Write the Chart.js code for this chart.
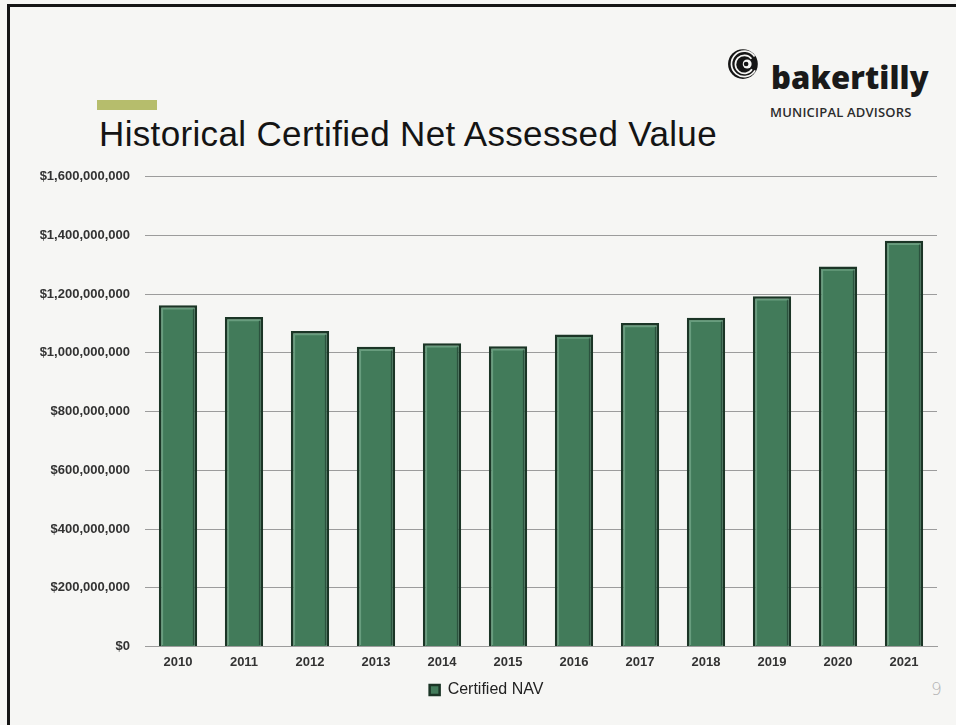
<!DOCTYPE html>
<html>
<head>
<meta charset="utf-8">
<script src="https://cdn.jsdelivr.net/npm/chart.js@4.4.1/dist/chart.umd.min.js"></script>
<style>
  html, body { margin: 0; padding: 0; }
  body { width: 956px; height: 725px; overflow: hidden; position: relative; background: #f6f6f4; font-family: "Liberation Sans", Arial, sans-serif; }
  .frame { position: absolute; left: 7px; top: 4px; width: 970px; height: 740px; border-top: 3px solid #151515; border-left: 3px solid #151515; }
  .accent { position: absolute; left: 97px; top: 100px; width: 60px; height: 10px; background: #b6bd6c; }
  .titulo { position: absolute; left: 99px; top: 114px; font-size: 35px; color: #141414; white-space: nowrap; letter-spacing: 0.35px; }
  .logo-icon { position: absolute; left: 727px; top: 48px; }
  .logo-name { position: absolute; left: 771px; top: 56px; font-family: "Open Sans", sans-serif; font-weight: 800; font-size: 31px; letter-spacing: 0.1px; color: #1a1a1a; }
  .logo-sub { position: absolute; left: 770px; top: 103px; font-family: "Open Sans", sans-serif; font-weight: 600; font-size: 13px; color: #2c2c2c; letter-spacing: 0.2px; }
  .pagina { position: absolute; left: 931px; top: 679px; font-size: 17px; color: #b4b4b4; font-family: "DejaVu Sans", sans-serif; font-weight: 200; }
  #graficoNav { position: absolute; left: 0; top: 154px; }
</style>
</head>
<body>
<div class="frame"></div>
<div class="accent"></div>
<div class="titulo">Historical Certified Net Assessed Value</div>

<svg class="logo-icon" width="34" height="32" viewBox="0 0 32 30">
  <circle cx="15" cy="15" r="14" fill="#151515"/>
  <path d="M26 8 A12 12 0 1 0 26.5 21" fill="none" stroke="#f6f6f4" stroke-width="1.6"/>
  <path d="M23 10 A8.5 8.5 0 1 0 23.5 20" fill="none" stroke="#f6f6f4" stroke-width="1.6"/>
  <circle cx="19" cy="15" r="4.2" fill="#f6f6f4"/>
  <circle cx="18" cy="15" r="2.2" fill="#151515"/>
</svg>
<div class="logo-name">bakertilly</div>
<div class="logo-sub">MUNICIPAL ADVISORS</div>
<div class="pagina">9</div>

<canvas id="graficoNav" width="956" height="557"></canvas>

<script>
// ── DATOS ─────────────────────────────────────────────
const anios = ['2010', '2011', '2012', '2013', '2014', '2015', '2016', '2017', '2018', '2019', '2020', '2021'];
const navCertificado = [1162000000, 1122000000, 1075000000, 1021000000, 1033000000, 1023000000,
                        1063000000, 1102000000, 1120000000, 1193000000, 1294000000, 1382000000];
const serieNombre = 'Certified NAV';
const ejeMax = 1600000000;
const ejePaso = 200000000;

const VERDE = '#427b5a';
const VERDE_BORDE = '#1b3526';
const FUENTE = '"Liberation Sans", Arial, sans-serif';

function fmtDolar(v) { return '$' + Number(v).toLocaleString('en-US'); }

// relieve de las barras: luz arriba/izquierda, sombra a la derecha
const bisel = {
    id: 'bisel',
    afterDatasetsDraw(chart) {
        const ctx = chart.ctx;
        chart.getDatasetMeta(0).data.forEach(bar => {
            const izq = bar.x - bar.width / 2, der = bar.x + bar.width / 2;
            const top = bar.y, base = bar.base;
            ctx.save();
            ctx.lineWidth = 1.5;
            ctx.strokeStyle = '#689d7e';
            ctx.beginPath();
            ctx.moveTo(izq + 3.5, base - 1);
            ctx.lineTo(izq + 3.5, top + 3.5);
            ctx.lineTo(der - 3.5, top + 3.5);
            ctx.stroke();
            ctx.strokeStyle = '#2b523e';
            ctx.beginPath();
            ctx.moveTo(der - 3.5, top + 4);
            ctx.lineTo(der - 3.5, base - 1);
            ctx.stroke();
            ctx.restore();
        });
    }
};

new Chart(document.getElementById('graficoNav').getContext('2d'), {
    type: 'bar',
    data: {
        labels: anios,
        datasets: [{
            label: serieNombre,
            data: navCertificado,
            backgroundColor: VERDE,
            borderColor: VERDE_BORDE,
            borderWidth: 2.5,
            categoryPercentage: 1,
            barPercentage: 0.58,
        }]
    },
    options: {
        responsive: false,
        animation: false,
        layout: { padding: { top: 10, right: 19, bottom: 3, left: 36 } },
        plugins: {
            tooltip: { enabled: false },
            legend: {
                position: 'bottom',
                labels: {
                    boxWidth: 10,
                    boxHeight: 10,
                    padding: 4,
                    color: '#222',
                    font: { family: FUENTE, size: 16 }
                }
            }
        },
        scales: {
            x: {
                grid: { display: false, drawTicks: false },
                border: { color: '#9c9c9c' },
                ticks: {
                    color: '#333',
                    padding: 8,
                    font: { family: FUENTE, size: 13, weight: 'bold' }
                }
            },
            y: {
                min: 0,
                max: ejeMax,
                afterFit: s => { s.width = 109; },
                border: { display: false },
                grid: { color: '#9c9c9c', lineWidth: 1, drawTicks: false },
                ticks: {
                    stepSize: ejePaso,
                    padding: 15,
                    color: '#333',
                    callback: v => fmtDolar(v),
                    font: { family: FUENTE, size: 13, weight: 'bold' }
                }
            }
        }
    },
    plugins: [bisel]
});
</script>
</body>
</html>
